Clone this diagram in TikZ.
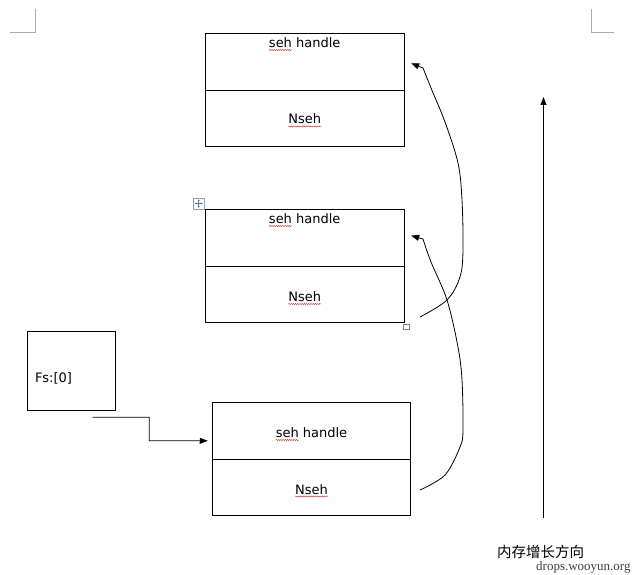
\documentclass[tikz,border=0pt]{standalone}
\usepackage{fontspec}
\setmainfont{DejaVu Sans}
\newfontfamily\cjk{Noto Sans CJK SC}
\newfontfamily\wmfont{Liberation Serif}
\usetikzlibrary{calc,arrows.meta,decorations.pathmorphing}
\definecolor{cornergray}{RGB}{170,170,170}
\definecolor{iconblue}{RGB}{90,120,170}
\definecolor{wavyred}{RGB}{200,40,40}
\begin{document}
\begin{tikzpicture}[x=1pt,y=-1pt,
  cell/.style={draw=black,line width=0.8pt,minimum width=199pt,inner sep=0pt,outer sep=0pt},
  txt/.style={inner sep=0pt,outer sep=0pt,anchor=base,font=\fontsize{13}{15}\selectfont},
  wavy/.style={draw=wavyred,line width=0.4pt,decorate,decoration={snake,amplitude=0.6pt,segment length=2.2pt}},
  conn/.style={draw=black,line width=0.8pt,-{Triangle[length=8pt,width=6pt]}},
  corner/.style={draw=cornergray,line width=0.8pt}]
\useasboundingbox (0,0) rectangle (640,575);
% corner marks
\draw[corner] (35,9) -- (35,32.5) -- (10,32.5);
\draw[corner] (591,9) -- (591,32.5) -- (614,32.5);
% box 1
\node[cell,minimum height=57pt] (h1) at (304.7,61.8) {};
\node[cell,minimum height=56pt] (n1) at (304.7,118.2) {};
\node[txt] (t1) at (304.7,47.5) {seh handle};
\node[txt] (m1) at (304.7,124) {Nseh};
% box 2
\node[cell,minimum height=57pt] (h2) at (304.7,237.6) {};
\node[cell,minimum height=56pt] (n2) at (304.7,294.2) {};
\node[txt] (t2) at (304.7,223.5) {seh handle};
\node[txt] (m2) at (304.7,301.5) {Nseh};
% box 3
\node[cell,minimum width=198.5pt,minimum height=57pt] (h3) at (311.5,430.8) {};
\node[cell,minimum width=198.5pt,minimum height=56pt] (n3) at (311.5,487.2) {};
\node[txt] (t3) at (311.5,437.5) {seh handle};
\node[txt] (m3) at (311.5,494) {Nseh};
% Fs box
\node[draw=black,line width=0.8pt,minimum width=88.4pt,minimum height=79pt,inner sep=0pt] (fs) at (71.5,370.5) {};
\node[txt,anchor=base west] (fst) at (35,382) {Fs:[0]};
% wavy spell-check underlines
\foreach \t in {t1,t2,t3}{
  \draw[wavy] ($(\t.base west)+(0,2.5)$) -- ++(23,0);
}
\foreach \m in {m1,m2,m3}{
  \draw[wavy] ($(\m.base west)+(0,2.5)$) -- ++(33,0);
}
% table icons
\node[draw=cornergray!80!iconblue,fill=white,minimum size=11pt,inner sep=0pt,line width=0.5pt] (mv) at (198.7,203.5) {};
\draw[iconblue,line width=0.5pt,-{Stealth[length=1.5pt,width=2pt]}] (mv.center) -- ++(0,-4);
\draw[iconblue,line width=0.5pt,-{Stealth[length=1.5pt,width=2pt]}] (mv.center) -- ++(0,4);
\draw[iconblue,line width=0.5pt,-{Stealth[length=1.5pt,width=2pt]}] (mv.center) -- ++(-4,0);
\draw[iconblue,line width=0.5pt,-{Stealth[length=1.5pt,width=2pt]}] (mv.center) -- ++(4,0);
\node[draw=gray,fill=white,minimum size=5.5pt,inner sep=0pt,line width=0.5pt] (rs) at (406,326.8) {};
% Fs connector
\coordinate (fsout) at (92.7,417.3);
\draw[conn] (fsout) -| (149.3,440.7) -- ($(h3.west)+(-4.5,10)$);
% curve from box2 Nseh to box1
\coordinate (c1s) at (420,317);
\draw[conn] plot[smooth,tension=0.55] coordinates {(c1s) (447,300) (460,277) (463,250) (462,200) (458,163) (445,122) (431,88) (423,68)} -- ($(h1.east)+(7,1.5)$);
% curve from box3 Nseh to box2
\coordinate (c2s) at (420,490);
\draw[conn] plot[smooth,tension=0.55] coordinates {(c2s) (445,475) (460,447) (463,430) (462,380) (458,347) (447,300) (431,262) (423,239)} -- ($(h2.east)+(7,-2)$);
% memory growth arrow
\coordinate (g0) at (543.5,518);
\coordinate (g1) at (543.5,97);
\draw[conn] (g0) -- (g1);
\node[inner sep=0pt,anchor=west,font=\cjk\fontsize{14.5}{16}\selectfont] (lbl) at (497,552) {内存增长方向};
\node[inner sep=0pt,anchor=base west,font=\wmfont\fontsize{13}{15}\selectfont,text=black!75] (wm) at (536,570) {drops.wooyun.org};
\end{tikzpicture}
\end{document}
